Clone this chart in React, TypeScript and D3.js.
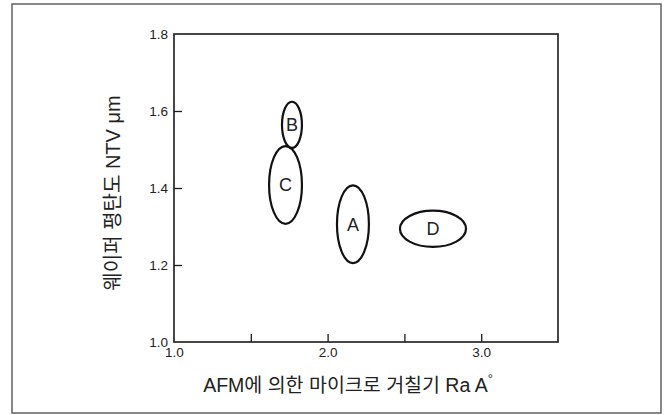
import React, { useEffect, useRef } from 'react'
import * as d3 from 'd3'

// regions measured on the chart (AFM roughness vs. wafer flatness)
const labels = ['A', 'B', 'C', 'D']
const centerX = [2.165, 1.768, 1.726, 2.686]
const centerY = [1.306, 1.564, 1.408, 1.294]
const radiusX = [0.104, 0.065, 0.107, 0.215]
const radiusY = [0.101, 0.06, 0.101, 0.047]

const xTicks = [1.0, 1.5, 2.0, 2.5, 3.0]
const xLabeled = [1.0, 2.0, 3.0]
const yTicks = [1.0, 1.2, 1.4, 1.6, 1.8]

const xTitle = 'AFM에 의한 마이크로 거칠기 Ra A'
const yTitle = '웨이퍼 평탄도 NTV  μm'

const W = 670
const H = 415
const font = '"Liberation Sans", Arial, "Noto Sans CJK KR", sans-serif'

export default function App() {
  const xAxisRef = useRef<SVGGElement>(null)
  const yAxisRef = useRef<SVGGElement>(null)

  const x = d3.scaleLinear().domain([1.0, 3.5]).range([174, 558])
  const y = d3.scaleLinear().domain([1.0, 1.8]).range([342, 34])

  useEffect(() => {
    if (!xAxisRef.current || !yAxisRef.current) return
    const xAxis = d3
      .axisBottom(x)
      .tickValues(xTicks)
      .tickSize(-8)
      .tickPadding(5)
      .tickFormat((d) => (xLabeled.includes(Number(d)) ? d3.format('.1f')(Number(d)) : ''))
    const yAxis = d3
      .axisLeft(y)
      .tickValues(yTicks)
      .tickSize(-8)
      .tickPadding(6)
      .tickFormat((d) => d3.format('.1f')(Number(d)))

    const gx = d3.select(xAxisRef.current)
    gx.selectAll('*').remove()
    gx.call(xAxis)
    const gy = d3.select(yAxisRef.current)
    gy.selectAll('*').remove()
    gy.call(yAxis)

    for (const g of [gx, gy]) {
      g.select('.domain').remove()
      g.selectAll('.tick line').attr('stroke', '#1a1a1a').attr('stroke-width', 1.3)
      g.selectAll('.tick text')
        .attr('fill', '#222')
        .style('font-family', font)
        .style('font-size', '13.5px')
    }
    // corner ticks coincide with the frame
    gx.selectAll('.tick line').filter((d) => Number(d) === 1.0).remove()
    gy.selectAll('.tick line').filter((d) => Number(d) === 1.0 || Number(d) === 1.8).remove()
  }, [])

  return (
    <svg width={W} height={H} style={{ position: 'absolute', left: 0, top: 0, background: '#fff' }}>
      <rect x={12} y={4} width={649} height={409} fill="none" stroke="#555" strokeWidth={1.4} />

      <rect
        x={x(1.0)}
        y={y(1.8)}
        width={x(3.5) - x(1.0)}
        height={y(1.0) - y(1.8)}
        fill="none"
        stroke="#1a1a1a"
        strokeWidth={1.6}
      />
      <g ref={xAxisRef} transform={`translate(0,${y(1.0)})`} />
      <g ref={yAxisRef} transform={`translate(${x(1.0)},0)`} />

      {labels.map((lab, i) => (
        <g key={lab}>
          <ellipse
            cx={x(centerX[i])}
            cy={y(centerY[i])}
            rx={x(1 + radiusX[i]) - x(1)}
            ry={y(1) - y(1 + radiusY[i])}
            fill="none"
            stroke="#111"
            strokeWidth={2.2}
          />
          <text
            x={x(centerX[i])}
            y={y(centerY[i])}
            dy="0.36em"
            textAnchor="middle"
            fontFamily={font}
            fontSize={18}
            fill="#222"
          >
            {lab}
          </text>
        </g>
      ))}

      <text x={348} y={392} textAnchor="middle" fontFamily={font} fontSize={19.5} fill="#222">
        {xTitle}
        <tspan fontSize={13} dy={-9}>°</tspan>
      </text>
      <text
        transform={`translate(120,193) rotate(-90)`}
        textAnchor="middle"
        fontFamily={font}
        fontSize={20}
        fill="#222"
      >
        {yTitle}
      </text>
    </svg>
  )
}
